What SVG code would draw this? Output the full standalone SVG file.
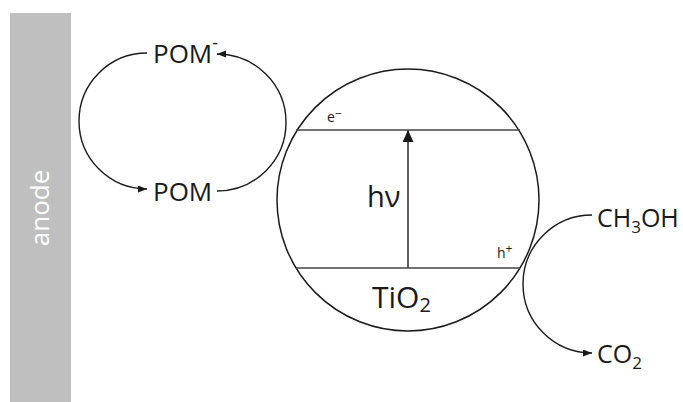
<svg xmlns="http://www.w3.org/2000/svg" width="683" height="402" viewBox="0 0 683 402">
<defs>
<style>
.t{font-family:"Open Sans","Noto Sans","Liberation Sans",sans-serif;fill:#1a1a1a}
.c{fill:none;stroke:#1a1a1a;stroke-width:1.4}
.band{stroke:#444;stroke-width:1.6}
</style>
<marker id="ah" markerUnits="userSpaceOnUse" markerWidth="10" markerHeight="8" refX="9" refY="3.5" orient="auto">
<path d="M0,0 L9,3.5 L0,7 z" fill="#1a1a1a"/>
</marker>
<marker id="ahBig" markerUnits="userSpaceOnUse" markerWidth="12" markerHeight="14" refX="12" refY="5.5" orient="auto">
<path d="M0,0 L12,5.5 L0,11 z" fill="#1a1a1a"/>
</marker>
</defs>
<rect width="683" height="402" fill="#ffffff"/>
<g id="anode">
<rect x="10" y="13" width="61" height="389" fill="#bfbfbf"/>
<text class="t" x="0" y="0" font-size="26" fill="#ffffff" style="fill:#ffffff" text-anchor="middle" transform="translate(49,208) rotate(-90)">anode</text>
</g>
<g id="connectors">
<path class="c" d="M147,53 A68,68 0 0 0 147,189" marker-end="url(#ah)"/>
<path class="c" d="M217,191 A69,68.5 0 0 0 217,54" marker-end="url(#ah)"/>
<path class="c" d="M592,215 A69,69 0 0 0 592,353" marker-end="url(#ah)"/>
<line class="c" x1="408" y1="268" x2="408" y2="130" marker-end="url(#ahBig)"/>
</g>
<g id="tio2">
<circle cx="408" cy="200" r="131" fill="none" stroke="#1a1a1a" stroke-width="1.5"/>
<line class="band" x1="296" y1="130" x2="520" y2="130"/>
<line class="band" x1="296" y1="268" x2="520" y2="268"/>
<text class="t" x="327" y="122" font-size="14">e<tspan font-size="12" dy="-4">−</tspan></text>
<text class="t" x="497" y="258" font-size="14">h<tspan font-size="12" dy="-5">+</tspan></text>
<text class="t" x="367" y="207" font-size="29">hν</text>
<text class="t" x="372" y="308" font-size="30">TiO<tspan font-size="20" dy="4">2</tspan></text>
</g>
<g id="pom-minus">
<text class="t" x="153" y="63" font-size="26">POM<tspan font-size="18" dy="-14">-</tspan></text>
</g>
<g id="pom">
<text class="t" x="153" y="201" font-size="26">POM</text>
</g>
<g id="ch3oh">
<text class="t" x="597" y="227" font-size="25">CH<tspan font-size="17" dy="6">3</tspan><tspan dy="-6">OH</tspan></text>
</g>
<g id="co2">
<text class="t" x="597" y="363" font-size="25">CO<tspan font-size="17" dy="6">2</tspan></text>
</g>
</svg>
